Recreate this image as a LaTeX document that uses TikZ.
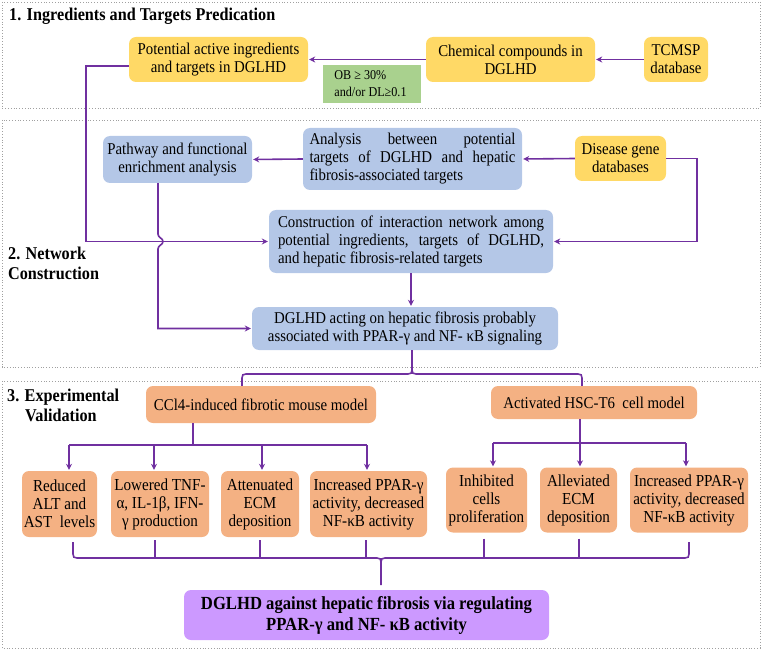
\documentclass[tikz,border=0pt]{standalone}
\usepackage{fontspec}
\setmainfont[FakeStretch=0.9]{Liberation Serif}
\usetikzlibrary{arrows.meta,calc}
\definecolor{cyel}{HTML}{FFD966}
\definecolor{cblu}{HTML}{B4C7E7}
\definecolor{corg}{HTML}{F4B183}
\definecolor{cgrn}{HTML}{A9D18E}
\definecolor{cpur}{HTML}{CC99FF}
\definecolor{cline}{HTML}{7030A0}
\definecolor{cgray}{HTML}{A0A0A0}
\begin{document}
\begin{tikzpicture}[x=1pt,y=-1pt,
 font=\fontsize{16.5}{18}\selectfont,
 box/.style={rounded corners=7pt, inner sep=0pt, align=center},
 yel/.style={box, fill=cyel}, blu/.style={box, fill=cblu}, org/.style={box, fill=corg},
 conn/.style={draw=cline, line width=1.6pt},
 arr/.style={conn, -{Stealth[length=6pt,width=6pt]}, shorten >=1pt},
 panel/.style={draw=cgray, dotted, line width=0.8pt},
 ttl/.style={anchor=west, font=\fontsize{18}{20}\selectfont\bfseries, align=left, inner sep=0pt},
 small/.style={font=\fontsize{16.8}{18}\selectfont}
]
\useasboundingbox (0,0) rectangle (762,652);
% panels
\draw[panel] (2,2) rectangle (760,108);
\draw[panel] (2,120) rectangle (760,367);
\draw[panel] (2,381) rectangle (760,648);
% titles
\node[ttl] (t1) at (9,16) {1. Ingredients and Targets Predication};
\node[ttl] (t2) at (8,263) {2. Network\\Construction};
\node[ttl] (t3) at (7,405) {3. Experimental\\\hspace*{18pt}Validation};
% panel 1
\node[yel, minimum width=179pt, minimum height=45pt] (pot) at (218.5,59.5) {Potential active ingredients\\and targets in DGLHD};
\node[yel, minimum width=169pt, minimum height=45pt] (chem) at (510.5,59.5) {Chemical compounds in\\DGLHD};
\node[yel, minimum width=64pt, minimum height=45pt] (tcm) at (676,59.5) {TCMSP\\database};
\node[box, rounded corners=0pt, fill=cgrn, minimum width=98pt, minimum height=38pt, align=left, font=\fontsize{13.5}{17}\selectfont] (grn) at (372,84) {OB ≥ 30\%\\and/or DL≥0.1\hspace*{3pt}};
\draw[arr] (tcm.west) -- (chem.east);
\draw[arr] (chem.west) -- (pot.east);
% panel 2
\node[blu, minimum width=149pt, minimum height=47pt] (pth) at (177.5,159.5) {Pathway and functional\\enrichment analysis};
\node[blu, minimum width=219pt, minimum height=62pt, align=left] (ana) at (412.5,159) {\makebox[206pt][s]{Analysis between potential}\\\makebox[206pt][s]{targets of DGLHD and hepatic}\\fibrosis-associated targets};
\node[yel, minimum width=91pt, minimum height=45pt] (dis) at (620.5,158.5) {Disease gene\\databases};
\node[blu, minimum width=284pt, minimum height=63pt, align=left] (con) at (411,241.5) {\makebox[266pt][s]{Construction of interaction network among}\\\makebox[266pt][s]{potential ingredients, targets of DGLHD,}\\and hepatic fibrosis-related targets};
\node[blu, minimum width=306pt, minimum height=43pt] (act) at (405,328.5) {DGLHD acting on hepatic fibrosis probably\\associated with PPAR-γ and NF- κB signaling};
\draw[arr] (ana.west) -- (pth.east);
\draw[arr] (dis.west) -- (ana.east);
\coordinate (d1) at (697,158.5);
\draw[arr] (dis.east) -- (d1) |- (con.east);
\coordinate (p1) at (86,66);
\draw[arr] (pot.west |- p1) -- (p1) |- (con.west);
\coordinate (q1) at (158,183);
\draw[arr] (pth.south -| q1) -- (158,234) .. controls (158,238) and (163,238) .. (163,241.5) .. controls (163,245) and (158,245) .. (158,249) |- (act.west);
\draw[arr] (con.south) -- (con.south |- act.north);
% top brace
\coordinate (b0) at (412,370);
\coordinate (bl) at (242,374);
\coordinate (br) at (582,374);
\node[org, minimum width=230pt, minimum height=37pt] (ccl) at (261,404.5) {CCl4-induced fibrotic mouse model};
\node[org, minimum width=206pt, minimum height=33pt] (hsc) at (594,402.5) {Activated HSC-T6\ \ cell model};
\draw[conn] (act.south -| b0) -- (b0);
\draw[conn] (b0) .. controls (412,373) and (411,374) .. (408,374) -- (246,374) .. controls (243,374) and (242,375) .. (242,378) -- (ccl.north -| bl);
\draw[conn] (b0) .. controls (412,373) and (413,374) .. (416,374) -- (578,374) .. controls (581,374) and (582,375) .. (582,378) -- (hsc.north -| br);
% bottom boxes
\node[org, small, minimum width=75pt, minimum height=66pt] (red) at (59.5,504) {Reduced\\ALT and\\AST\ \ levels};
\node[org, small, minimum width=98pt, minimum height=66pt] (low) at (160,504) {Lowered TNF-\\α, IL-1β, IFN-\\γ production};
\node[org, small, minimum width=78pt, minimum height=66pt] (att) at (260,504) {Attenuated\\ECM\\deposition};
\node[org, small, minimum width=117pt, minimum height=66pt] (inc1) at (368.5,504) {Increased PPAR-γ\\activity, decreased\\NF-κB activity};
\node[org, small, minimum width=81pt, minimum height=65pt] (inh) at (486.5,500) {Inhibited\\cells\\proliferation};
\node[org, small, minimum width=77pt, minimum height=65pt] (all) at (578.5,500) {Alleviated\\ECM\\deposition};
\node[org, small, minimum width=118pt, minimum height=65pt] (inc2) at (689,500) {Increased PPAR-γ\\activity, decreased\\NF-κB activity};
% branches
\coordinate (cb) at (193,445);
\coordinate (a1) at (69,445); \coordinate (a2) at (154,445); \coordinate (a3) at (262,445); \coordinate (a4) at (367,445);
\draw[conn] (ccl.south -| cb) -- (cb);
\draw[conn] (a1) -- (a4);
\draw[arr] (a1) -- (a1 |- red.north);
\draw[arr] (a2) -- (a2 |- low.north);
\draw[arr] (a3) -- (a3 |- att.north);
\draw[arr] (a4) -- (a4 |- inc1.north);
\coordinate (h1) at (493,443); \coordinate (h2) at (580,443); \coordinate (h3) at (686,443);
\draw[conn] (hsc.south -| h2) -- (h2);
\draw[conn] (h1) -- (h3);
\draw[arr] (h1) -- (h1 |- inh.north);
\draw[arr] (h2) -- (h2 |- all.north);
\draw[arr] (h3) -- (h3 |- inc2.north);
% bottom brace
\coordinate (k1) at (155,558); \coordinate (k2) at (260,558); \coordinate (k3) at (366,558);
\coordinate (k4) at (484,558); \coordinate (k5) at (579,558);
\coordinate (e1) at (73,542); \coordinate (e2) at (689,542); \coordinate (m) at (381,585);
\draw[conn] (k1 |- low.south) ++(0,3) -- (k1);
\draw[conn] (k2 |- att.south) ++(0,3) -- (k2);
\draw[conn] (k3 |- inc1.south) ++(0,3) -- (k3);
\draw[conn] (k4 |- inh.south) ++(0,6) -- (k4);
\draw[conn] (k5 |- all.south) ++(0,6) -- (k5);
\draw[conn] (e1) -- (73,554) .. controls (73,557) and (74,558) .. (77,558) -- (377,558) .. controls (380,558) and (381,559) .. (381,562) -- (m);
\draw[conn] (381,562) .. controls (381,559) and (382,558) .. (385,558) -- (685,558) .. controls (688,558) and (689,557) .. (689,554) -- (e2);
\node[box, fill=cpur, minimum width=365pt, minimum height=50pt, font=\fontsize{18.5}{21}\selectfont\bfseries] (fin) at (366.5,615) {DGLHD against hepatic fibrosis via regulating\\PPAR-γ and NF- κB activity};
\end{tikzpicture}
\end{document}
